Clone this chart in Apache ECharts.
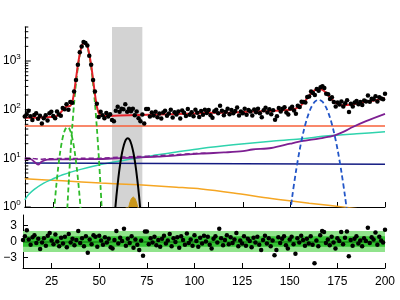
<!DOCTYPE html>
<html>
<head>
<meta charset="utf-8">
<script src="https://cdn.jsdelivr.net/npm/echarts@6/dist/echarts.min.js"></script>
<style>
  html, body { margin: 0; padding: 0; background: #fff; }
  #chart { width: 400px; height: 300px; }
</style>
</head>
<body>
<div id="chart"></div>
<script>
// x of first channel, one point per channel
const xStart = 10;

// measured counts (black dots)
const counts = [
  72, 81, 95, 73, 61, 78, 84, 65, 75, 52,
  67, 77, 60, 84, 91, 74, 67, 92, 80, 75,
  108, 102, 130, 100, 143, 138, 235, 408, 836, 1510,
  1990, 2461, 2350, 2077, 1279, 837, 408, 235, 132, 71,
  91, 77, 67, 85, 72, 81, 61, 58, 95, 115,
  91, 105, 102, 130, 91, 105, 93, 105, 77, 92,
  67, 58, 80, 52, 103, 103, 72, 87, 76, 91,
  70, 83, 66, 87, 95, 75, 83, 100, 69, 89,
  80, 92, 66, 96, 86, 74, 103, 79, 89, 73,
  100, 86, 71, 94, 79, 100, 85, 98, 77, 68,
  93, 100, 84, 120, 95, 77, 91, 104, 81, 99,
  84, 94, 111, 76, 92, 84, 104, 79, 98, 92,
  76, 101, 89, 105, 84, 70, 97, 109, 88, 102,
  81, 97, 62, 73, 108, 92, 104, 112, 88, 80,
  106, 115, 96, 82, 121, 114, 146, 143, 140, 183,
  186, 237, 219, 200, 265, 246, 290, 303, 279, 213,
  208, 166, 181, 144, 116, 141, 128, 148, 116, 136,
  156, 90, 133, 116, 141, 151, 129, 143, 125, 154,
  147, 195, 145, 168, 163, 189, 148, 180, 169, 164,
  213
];

// normalised residuals (lower panel)
const resid = [
  0.3, 1.0, 2.1, 0.4, -0.6, 0.8, 1.2, -0.3, 0.5, -1.4,
  -0.2, 0.6, -0.8, 1.1, 1.6, 0.2, -0.5, 1.3, 0.0, -0.9,
  0.7, -0.4, 0.9, -1.1, 1.4, -0.2, 0.5, -0.7, 0.3, 2.0,
  -0.3, 0.6, -0.9, 1.0, -2.1, 0.4, -0.5, 1.2, 0.9, -1.0,
  1.1, 0.2, -0.6, 0.8, -0.2, 0.5, -1.1, -1.3, 0.3, 2.0,
  -0.4, 0.7, 0.1, 2.4, -0.8, 0.5, -0.3, 1.0, -1.2, 0.4,
  -0.6, -1.6, 0.2, -2.7, 1.9, 1.9, -0.5, 0.6, -0.2, 0.9,
  -0.7, 0.3, -1.0, 0.5, 1.1, -0.4, 0.2, 1.4, -0.9, 0.6,
  -0.1, 0.8, -1.2, 1.0, 0.3, -0.6, 1.5, -0.3, 0.4, -0.8,
  1.2, 0.1, -1.0, 0.7, -0.4, 1.1, 0.0, 0.9, -0.6, -1.3,
  0.5, 1.0, -0.2, 2.4, 0.6, -0.7, 0.3, 1.2, -0.5, 0.8,
  -0.3, 0.4, 1.6, -0.9, 0.2, -0.4, 1.0, -0.8, 0.5, 0.1,
  -1.1, 0.7, -0.2, 0.9, -0.6, -1.6, 0.3, 1.1, -0.4, 0.6,
  -0.9, 0.2, -2.6, -1.6, 0.8, -0.3, 0.5, 1.0, -0.7, -1.3,
  0.4, 0.9, -0.5, -2.3, 0.6, -0.2, 1.1, 0.3, -0.8, 0.5,
  -0.4, 1.0, -0.6, -4.1, 0.2, -0.9, 1.2, 2.0, 1.8, -0.3,
  0.4, -0.7, 0.9, -0.2, -1.3, 0.6, 0.1, 1.8, -0.5, 0.7,
  1.9, -2.8, 0.3, -0.8, 0.5, 1.0, -0.4, 0.2, -0.9, 0.6,
  0.1, 2.6, -0.3, 0.8, 0.4, 1.7, -0.6, 0.9, 0.2, -0.2,
  2.2
];

// total fit (red)
const fitCurve = [
  [10, 68.5], [15, 68.5], [20, 69.7], [24, 70.6], [25, 71.3], [26, 73], [27, 75], [28, 80],
  [29, 87.8], [30, 98], [31, 108], [32, 115], [33, 117.5], [34, 120], [35, 142], [36, 224],
  [37, 430], [38, 823], [39, 1398], [40, 2010], [41, 2417], [41.5, 2473], [42, 2417], [43, 2010],
  [44, 1397], [45, 820], [46, 423], [47, 209], [48, 117], [49, 85], [50, 76.7], [51, 74.5],
  [52, 74.3], [60, 75.8], [70, 77.4], [80, 79.2], [90, 81.4], [100, 83.9], [110, 86], [120, 88],
  [130, 91.3], [140, 94], [145, 96.4], [150, 99.6], [153, 106], [155, 117], [157, 138], [159, 173],
  [161, 215], [163, 252], [165, 268], [167, 255], [169, 220], [171, 180], [173, 148], [175, 131],
  [177, 124], [180, 124.4], [185, 134], [190, 145.5], [195, 157], [200, 171]
];

// background components
const constBg = [[10, 46], [200, 46]];
const navyBg = [[10, 8.0], [200, 7.6]];
const orangeBg = [[10, 3.8], [30, 3.45], [50, 3.1], [70, 2.85], [90, 2.55], [103, 2.35], [120, 1.95],
  [140, 1.5], [160, 1.2], [180, 0.98], [200, 0.78]];
const tealBg = [[10, 1.4], [12, 1.8], [15, 2.3], [20, 3.1], [25, 3.8], [30, 4.6], [40, 6.0], [50, 7.5],
  [60, 8.8], [70, 10.3], [80, 11.8], [90, 13.5], [103, 16], [120, 19], [140, 22.5], [155, 25],
  [170, 29], [185, 32], [200, 35]];
const purpleBg = [[10, 9.3], [13, 9.6], [15, 8.5], [17, 7.4], [19, 8.6], [22, 9.4], [30, 9.5], [40, 9.6],
  [50, 9.7], [60, 10.1], [70, 10.4], [80, 10.8], [90, 11.5], [103, 12.5], [115, 13.2], [125, 14.0],
  [130, 15.2], [140, 16.3], [150, 20], [156, 22.5], [165, 25.5], [172, 28.5], [178, 35], [183, 44],
  [190, 58], [200, 82]];
const purpleDash = [[10, 10.2], [14, 10], [18, 9.6], [22, 9.8], [30, 9.9], [40, 10.0], [50, 10.1],
  [60, 10.6], [70, 10.9], [80, 11.3], [90, 11.9], [100, 12.6], [106, 12.8]];

// peaks
const greenSmall = [[24.5, 0.26], [25.5, 0.87], [26.5, 2.47], [27.5, 5.95], [28.5, 12.2], [29.5, 21.4],
  [30.5, 32], [31.5, 40.6], [32.5, 44], [33.5, 40.6], [34.5, 32], [35.5, 21.4], [36.5, 12.2],
  [37.5, 5.95], [38.5, 2.47], [39.5, 0.87], [40.5, 0.26]];
const greenBig = [[31, 0.066], [32, 0.44], [33, 2.46], [34, 11.3], [35, 43], [36, 135], [37, 349],
  [38, 747], [39, 1324], [40, 1937], [41, 2344], [41.5, 2400], [42, 2344], [43, 1937], [44, 1324],
  [45, 747], [46, 349], [47, 135], [48, 43], [49, 11.3], [50, 2.46], [51, 0.44], [52, 0.066]];
const blackPeak = [[56.3, 0.19], [57.3, 0.6], [58.3, 1.63], [59.3, 3.8], [60.3, 7.6], [61.3, 13],
  [62.3, 19.1], [63.3, 24.1], [64.3, 26], [65.3, 24.1], [66.3, 19.1], [67.3, 13], [68.3, 7.6],
  [69.3, 3.8], [70.3, 1.63], [71.3, 0.6], [72.3, 0.19]];
const goldPeak = [[63.2, 0.41], [64.2, 0.74], [65.2, 1.14], [66.2, 1.47], [67.2, 1.6], [68.2, 1.47],
  [69.2, 1.14], [70.2, 0.74], [71.2, 0.41]];
const bluePeak = [[147, 0.08], [149, 0.38], [151, 1.56], [153, 5.3], [155, 15], [157, 35.2], [159, 68.3],
  [161, 109.6], [163, 145.6], [165, 160], [167, 145.6], [169, 109.6], [171, 68.3], [173, 35.2],
  [175, 15], [177, 5.3], [179, 1.56], [181, 0.38], [183, 0.08]];

// excluded window
const bandFrom = 56;
const bandTo = 72;

// axes
const xTicks = [25, 50, 75, 100, 125, 150, 175, 200];
const residTicks = [-3, 0, 3];
const yMajor = [1, 10, 100, 1000];
const yMinor = [2, 3, 4, 5, 6, 7, 8, 9, 20, 30, 40, 50, 60, 70, 80, 90,
  200, 300, 400, 500, 600, 700, 800, 900, 2000, 3000, 4000, 5000];

const xMin = 10, xMax = 200;
const obsData = counts.map((v, i) => [xStart + i, v]);
const residData = resid.map((v, i) => [xStart + i, v]);
const tickData = yMajor.map(v => [xMin, v, 1]).concat(yMinor.map(v => [xMin, v, 0]));

function curve(name, data, color, width, dashed, z) {
  return {
    name: name, type: "line", xAxisIndex: 0, yAxisIndex: 0,
    data: data, showSymbol: false, symbol: "none", smooth: 0.3, z: z || 3,
    lineStyle: { color: color, width: width, type: dashed ? [5, 3] : "solid" }
  };
}

const chart = echarts.init(document.getElementById("chart"));
const option = {
  animation: false,
  textStyle: { fontFamily: "Liberation Sans, Arial, sans-serif" },
  grid: [
    { left: 23, right: 15, top: 27, height: 180 },
    { left: 23, right: 15, top: 215, height: 53 }
  ],
  xAxis: [
    {
      type: "value", gridIndex: 0, min: xMin, max: xMax,
      axisLine: { show: true, onZero: false, lineStyle: { color: "#000", width: 1 } },
      axisTick: { show: true, inside: true, length: 5, customValues: xTicks, lineStyle: { color: "#000" } },
      axisLabel: { show: false },
      splitLine: { show: false }
    },
    {
      type: "value", gridIndex: 1, min: xMin, max: xMax,
      axisLine: { show: true, onZero: false, lineStyle: { color: "#000", width: 1 } },
      axisTick: { show: true, inside: true, length: 5, customValues: xTicks, lineStyle: { color: "#000" } },
      axisLabel: { customValues: xTicks, color: "#000", fontSize: 12, margin: 8 },
      splitLine: { show: false }
    }
  ],
  yAxis: [
    {
      type: "log", gridIndex: 0, min: 1, max: 5000, logBase: 10,
      axisLine: { show: true, lineStyle: { color: "#000", width: 1 } },
      axisTick: { show: false },
      splitLine: { show: false },
      axisLabel: {
        margin: 4, color: "#000",
        formatter: function (v) {
          const e = Math.log10(v);
          if (Math.abs(e - Math.round(e)) > 1e-6) return "";
          return "{b|10}{s|" + Math.round(e) + "}";
        },
        rich: {
          b: { fontSize: 12, color: "#000" },
          s: { fontSize: 8, color: "#000", padding: [0, 0, 8, 0] }
        }
      }
    },
    {
      type: "value", gridIndex: 1, min: -5, max: 5,
      axisLine: { show: true, lineStyle: { color: "#000", width: 1 } },
      axisTick: { show: true, inside: true, length: 5, customValues: residTicks, lineStyle: { color: "#000" } },
      splitLine: { show: false },
      axisLabel: {
        customValues: residTicks, color: "#000", fontSize: 12, margin: 6,
        formatter: function (v) { return v < 0 ? "\u2212" + Math.abs(v) : String(v); }
      }
    }
  ],
  series: [
    // grey window
    {
      type: "line", xAxisIndex: 0, yAxisIndex: 0, data: [[bandFrom, 1], [bandTo, 1]],
      symbol: "none", lineStyle: { opacity: 0 }, z: 1, silent: true,
      markArea: {
        silent: true, itemStyle: { color: "#d3d3d3", opacity: 1 },
        data: [[{ xAxis: bandFrom }, { xAxis: bandTo }]]
      }
    },
    // log-axis ticks (major and minor)
    {
      type: "custom", xAxisIndex: 0, yAxisIndex: 0, data: tickData, silent: true, clip: false, z: 10,
      encode: { x: 0, y: 1 },
      renderItem: function (params, api) {
        const p = api.coord([api.value(0), api.value(1)]);
        const len = api.value(2) ? 6 : 3.5;
        return {
          type: "line",
          shape: { x1: p[0], y1: p[1], x2: p[0] + len, y2: p[1] },
          style: { stroke: "#000", lineWidth: 1 }
        };
      }
    },
    curve("const", constBg, "#f7603a", 1.5, false),
    curve("orange", orangeBg, "#f5a623", 1.5, false),
    curve("teal", tealBg, "#2fd3ad", 1.5, false),
    curve("navy", navyBg, "#141c82", 1.5, false),
    curve("purple dashed", purpleDash, "#7d1f92", 1.5, true),
    curve("purple", purpleBg, "#7d1f92", 1.8, false),
    curve("green small", greenSmall, "#2fbb2a", 1.8, true, 4),
    curve("green big", greenBig, "#2fbb2a", 1.8, true, 4),
    curve("black", blackPeak, "#000000", 2, false, 4),
    {
      name: "gold", type: "line", xAxisIndex: 0, yAxisIndex: 0, data: goldPeak,
      symbol: "none", smooth: 0.3, z: 4,
      lineStyle: { color: "#c9961a", width: 1 },
      areaStyle: { color: "#c9961a", opacity: 1, origin: "start" }
    },
    curve("blue", bluePeak, "#2356c8", 1.8, true, 4),
    curve("fit", fitCurve, "#e3222a", 2, false, 5),
    {
      name: "data", type: "scatter", xAxisIndex: 0, yAxisIndex: 0, data: obsData,
      symbolSize: 4.5, itemStyle: { color: "#000", opacity: 1 }, z: 6
    },
    // residuals
    {
      name: "residuals", type: "scatter", xAxisIndex: 1, yAxisIndex: 1, data: residData,
      symbolSize: 4.5, itemStyle: { color: "#000", opacity: 1 }, z: 6,
      markArea: {
        silent: true,
        data: [
          [{ yAxis: -2, itemStyle: { color: "#90e38c", opacity: 1 } }, { yAxis: 2 }],
          [{ yAxis: -1, itemStyle: { color: "#34c233", opacity: 1 } }, { yAxis: 1 }]
        ]
      },
      markLine: {
        silent: true, symbol: "none", label: { show: false },
        lineStyle: { color: "#178a17", width: 1.5, type: "solid" },
        data: [{ yAxis: 0 }]
      }
    }
  ]
};
chart.setOption(option);
window.addEventListener("resize", () => {
  chart.resize();
});
</script>
</body>
</html>
